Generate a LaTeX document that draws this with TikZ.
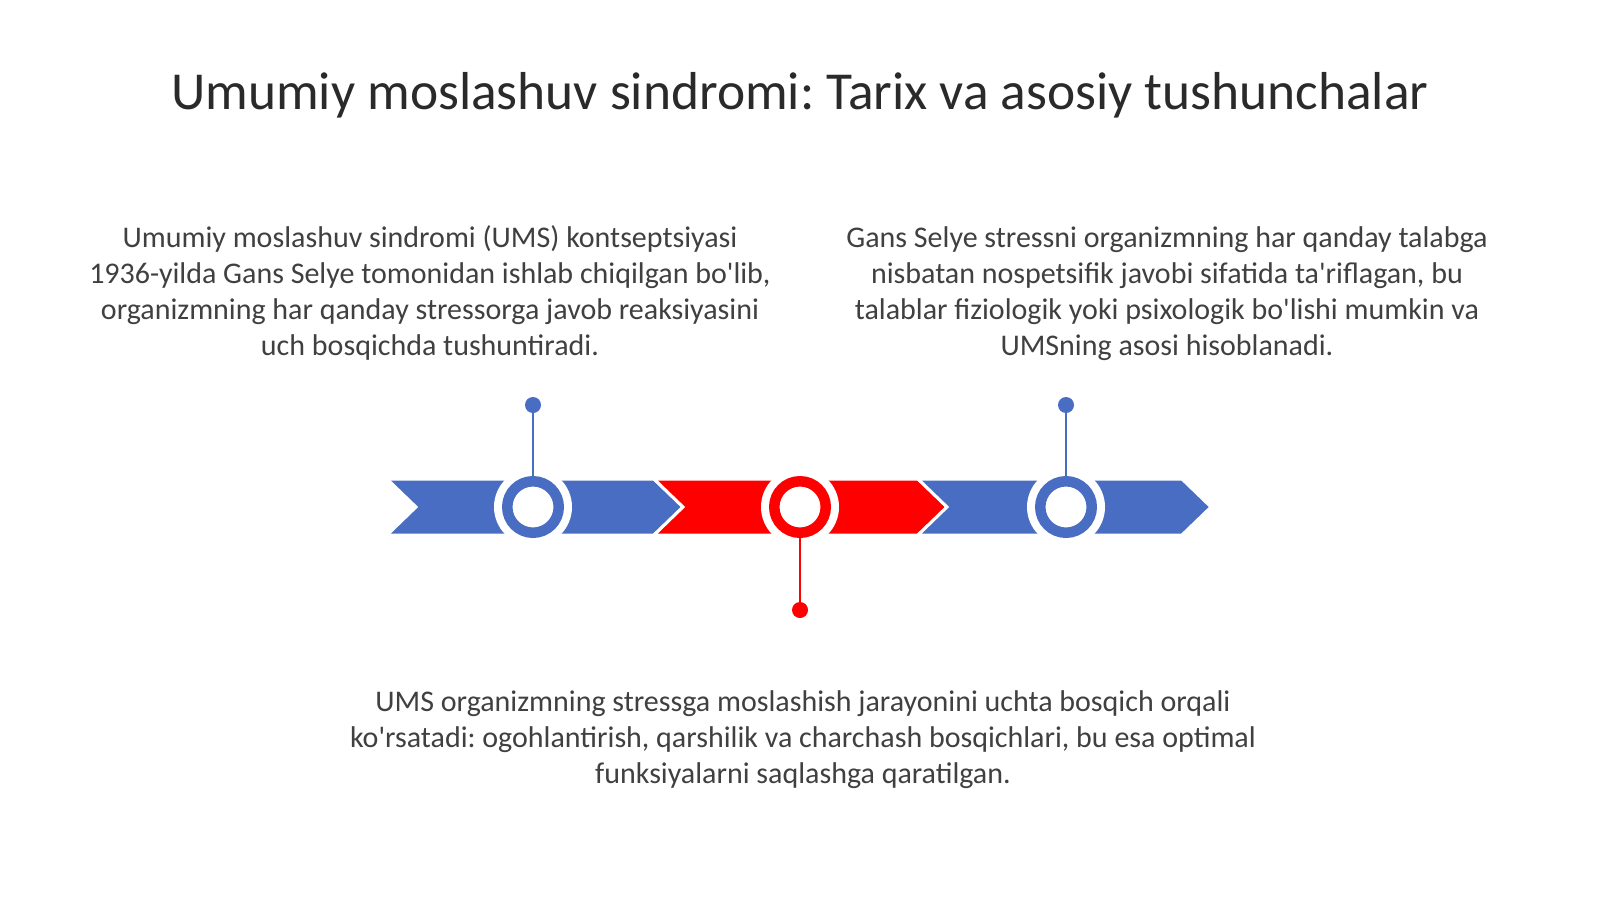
\documentclass[tikz,border=0pt]{standalone}
\usepackage{fontspec}
\setmainfont{Carlito}[Ligatures=TeXOff]
\frenchspacing
\definecolor{tblue}{HTML}{4A6DC4}
\definecolor{tred}{HTML}{FF0000}
\definecolor{ttext}{HTML}{404040}
\definecolor{ttitle}{HTML}{2A2A2A}
\begin{document}
\begin{tikzpicture}[x=1pt,y=-1pt,
  seg/.style={draw=white,line width=3pt,line join=miter},
  halo/.style={circle,fill=white,minimum size=78pt,inner sep=0pt},
  ring/.style={circle,fill=white,draw=#1,line width=10.5pt,minimum size=51.5pt,inner sep=0pt},
  pin/.style={circle,fill=#1,minimum size=16pt,inner sep=0pt},
  stem/.style={draw=#1,line width=2.5pt},
  body/.style={align=center,text=ttext,font=\fontsize{30}{35.7}\selectfont\frenchspacing,inner sep=0pt,anchor=base},
]
\useasboundingbox[fill=white] (0,0) rectangle (1600,899);
\node[text=ttitle,font=\fontsize{53.4}{60}\selectfont\frenchspacing,inner sep=0pt,anchor=base] (title) at (800,109) {Umumiy moslashuv sindromi: Tarix va asosiy tushunchalar};
% chevrons
\fill[tblue,seg] (387,479) -- (654,479) -- (683,507) -- (654,535) -- (387,535) -- (416,507) -- cycle;
\fill[tred,seg] (654,479) -- (918,479) -- (947,507) -- (918,535) -- (654,535) -- (683,507) -- cycle;
\fill[tblue,seg] (918,479) -- (1182,479) -- (1211,507) -- (1182,535) -- (918,535) -- (947,507) -- cycle;
% rings
\node[halo] (h1) at (533,507) {};
\node[halo] (h2) at (800,507) {};
\node[halo] (h3) at (1066,507) {};
\node[ring=tblue] (r1) at (533,507) {};
\node[ring=tred] (r2) at (800,507) {};
\node[ring=tblue] (r3) at (1066,507) {};
% pins
\node[pin=tblue] (d1) at (533,405) {};
\node[pin=tred] (d2) at (800,610) {};
\node[pin=tblue] (d3) at (1066,405) {};
\draw[stem=tblue] (d1.center) -- (r1.north);
\draw[stem=tred] (d2.center) -- (r2.south);
\draw[stem=tblue] (d3.center) -- (r3.north);
% texts (anchor = baseline of last line)
\node[body] (t1) at (430,355) {Umumiy moslashuv sindromi (UMS) kontseptsiyasi\\1936-yilda Gans Selye tomonidan ishlab chiqilgan bo'lib,\\organizmning har qanday stressorga javob reaksiyasini\\uch bosqichda tushuntiradi.};
\node[body] (t2) at (1167,355) {Gans Selye stressni organizmning har qanday talabga\\nisbatan nospetsifik javobi sifatida ta'riflagan, bu\\talablar fiziologik yoki psixologik bo'lishi mumkin va\\UMSning asosi hisoblanadi.};
\node[body] (t3) at (803,783) {UMS organizmning stressga moslashish jarayonini uchta bosqich orqali\\ko'rsatadi: ogohlantirish, qarshilik va charchash bosqichlari, bu esa optimal\\funksiyalarni saqlashga qaratilgan.};
\end{tikzpicture}
\end{document}
